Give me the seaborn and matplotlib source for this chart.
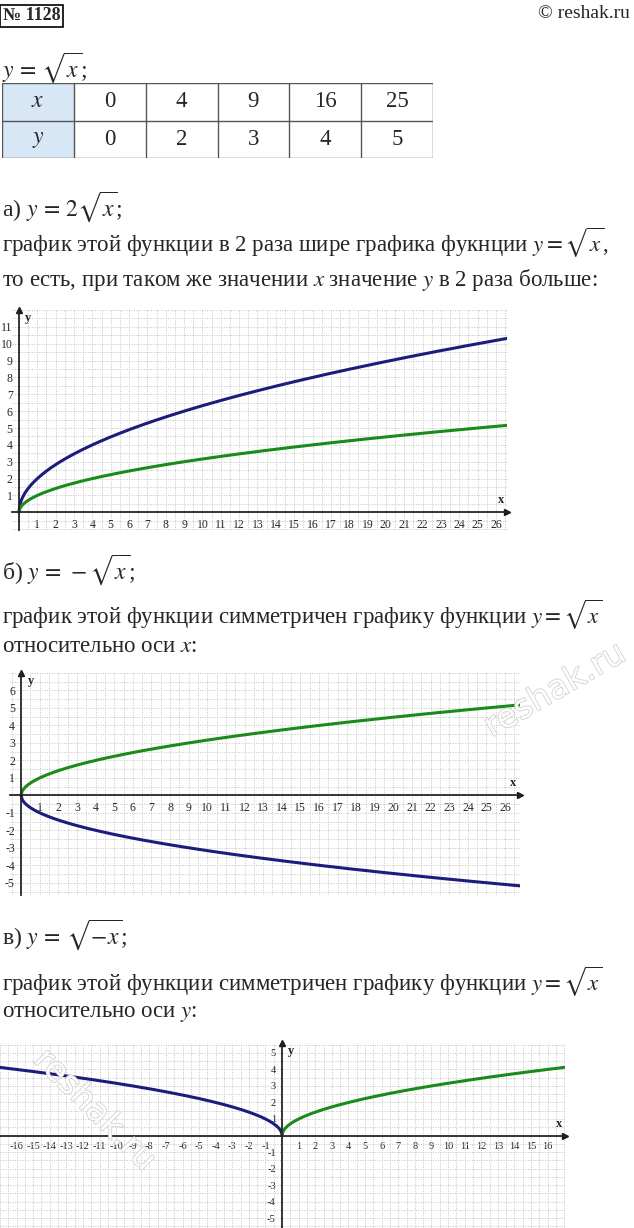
import numpy as np
import matplotlib
matplotlib.use("Agg")
import matplotlib.pyplot as plt
import matplotlib.patheffects as pe
from matplotlib.ticker import MultipleLocator
import seaborn as sns

# table values
table_x = [0, 4, 9, 16, 25]
table_y = [0, 2, 3, 4, 5]

# curves
x_pos = np.linspace(0, 26.8, 600)
x_sym = np.linspace(0, 17.0, 600)

NAVY = "#1c1c7c"
GREEN = "#1a8a1a"

sns.set_theme(style="white")
plt.rcParams['font.family'] = ['Liberation Serif', 'DejaVu Serif']
plt.rcParams['mathtext.fontset'] = 'stix'

W, H = 634, 1228
fig = plt.figure(figsize=(W / 100, H / 100), dpi=100)
fig.patch.set_facecolor("white")


def fy(py):
    return 1 - py / H


def put(px, py, s, size=16.5, **kw):
    fig.text(px / W, fy(py), s, fontsize=size, va="center", ha=kw.pop("ha", "left"), **kw)


def make_axes(box, xlim, ylim, xticks, yticks, lsize=8.5):
    x0, y0, x1, y1 = box
    ax = fig.add_axes([x0 / W, fy(y1), (x1 - x0) / W, (y1 - y0) / H])
    ax.set_xlim(*xlim)
    ax.set_ylim(*ylim)
    ax.xaxis.set_minor_locator(MultipleLocator(0.5))
    ax.yaxis.set_minor_locator(MultipleLocator(0.5))
    ax.set_xticks(xticks)
    ax.set_yticks(yticks)
    ax.grid(True, which="both", color="#c4c4c4", lw=0.7, ls=(0, (1, 1.5)))
    for s in ["top", "right"]:
        ax.spines[s].set_visible(False)
    ax.spines["left"].set_position(("data", 0))
    ax.spines["bottom"].set_position(("data", 0))
    ax.spines["left"].set_linewidth(1.3)
    ax.spines["bottom"].set_linewidth(1.3)
    ax.tick_params(which="major", direction="inout", length=5, width=0.8,
                   labelsize=lsize, pad=2)
    ax.tick_params(which="minor", length=0)
    ax.set_xticklabels([str(t) for t in xticks])
    ax.set_yticklabels([str(t) for t in yticks])
    ax.plot(1, 0, ">k", transform=ax.get_yaxis_transform(), clip_on=False, ms=5)
    ax.plot(0, 1, "^k", transform=ax.get_xaxis_transform(), clip_on=False, ms=5)
    ax.text(xlim[1] - 0.35, 0.35, "x", fontsize=9, fontweight="bold", ha="center", va="bottom")
    ax.text(0.35, ylim[1] - 0.1, "y", fontsize=9, fontweight="bold", ha="left", va="top")
    ax.set_facecolor("white")
    return ax


# header
fig.text(3 / W, fy(16), "№ 1128", fontsize=13, fontweight="bold", va="center",
         bbox=dict(boxstyle="square,pad=0.15", fc="white", ec="black", lw=1.2))
put(630, 14, "© reshak.ru", size=14, ha="right")
put(2, 68, r"$y\,=\,\sqrt{x}$;", size=17)

# table
tab = fig.add_axes([2 / W, fy(158), 431 / W, 75 / H])
tab.set_xlim(0, 6)
tab.set_ylim(0, 2)
tab.axis("off")
tab.add_patch(plt.Rectangle((0, 0), 1, 2, fc="#d7e7f5", ec="none"))
for i in range(7):
    tab.plot([i, i], [0, 2], color="#555555", lw=1)
for j in range(3):
    tab.plot([0, 6], [j, j], color="#555555", lw=1)
tab.text(0.5, 1.5, r"$x$", fontsize=17, ha="center", va="center")
tab.text(0.5, 0.5, r"$y$", fontsize=17, ha="center", va="center")
for i, (a, b) in enumerate(zip(table_x, table_y)):
    tab.text(i + 1.5, 1.5, str(a), fontsize=16.5, ha="center", va="center")
    tab.text(i + 1.5, 0.5, str(b), fontsize=16.5, ha="center", va="center")

# part a
put(2, 207, r"а) $y\,=\,2\sqrt{x}$;", size=17)
put(2, 243, r"график этой функции в 2 раза шире графика фукнции $y=\sqrt{x}$,")
put(2, 280, r"то есть, при таком же значении $x$ значение $y$ в 2 раза больше:")
ax1 = make_axes((12, 310, 507, 530), (-0.38, 26.6), (-1.05, 12.0),
                list(range(1, 27)), list(range(1, 12)))
sns.lineplot(x=x_pos, y=2 * np.sqrt(x_pos), ax=ax1, color=NAVY, lw=2.2)
sns.lineplot(x=x_pos, y=np.sqrt(x_pos), ax=ax1, color=GREEN, lw=2.2)

# part b
put(2, 570, r"б) $y\,=\,-\sqrt{x}$;", size=17)
put(2, 615, r"график этой функции симметричен графику функции $y=\sqrt{x}$")
put(2, 647, r"относительно оси $x$:")
yt2 = [t for t in range(-5, 7) if t != 0]
ax2 = make_axes((10, 673, 520, 895), (-0.6, 26.8), (-5.7, 7.0),
                list(range(1, 27)), yt2)
sns.lineplot(x=x_pos, y=np.sqrt(x_pos), ax=ax2, color=GREEN, lw=2.2)
sns.lineplot(x=x_pos, y=-np.sqrt(x_pos), ax=ax2, color=NAVY, lw=2.2)

# part c
put(2, 935, r"в) $y\,=\,\sqrt{-x}$;", size=17)
put(2, 982, r"график этой функции симметричен графику функции $y=\sqrt{x}$")
put(2, 1013, r"относительно оси $y$:")
xt3 = [t for t in range(-16, 17) if t != 0]
yt3 = [t for t in range(-5, 6) if t != 0]
ax3 = make_axes((0, 1043, 565, 1228), (-17.0, 17.05), (-5.6, 5.6), xt3, yt3, lsize=7.5)
sns.lineplot(x=-x_sym, y=np.sqrt(x_sym), ax=ax3, color=NAVY, lw=2.2)
sns.lineplot(x=x_sym, y=np.sqrt(x_sym), ax=ax3, color=GREEN, lw=2.2)

# watermarks
wm = [pe.withStroke(linewidth=1.0, foreground="#c8c8c8")]
for px, py, rot in [(555, 690, 30), (95, 1110, -45)]:
    fig.text(px / W, fy(py), "reshak.ru", fontsize=24, rotation=rot,
             color="white", alpha=0.9, ha="center", va="center",
             family="DejaVu Sans", path_effects=wm)

fig.savefig("out.png", dpi=100, facecolor="white")
